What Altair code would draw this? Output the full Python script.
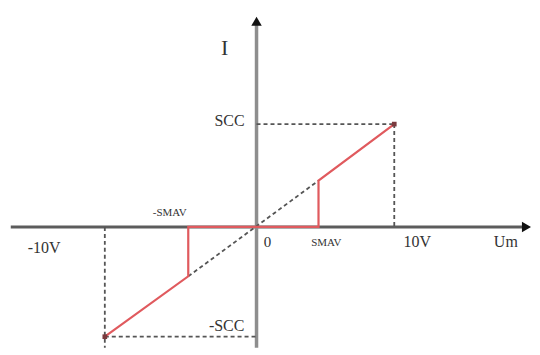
import altair as alt
import pandas as pd

# ---- data (volts on x, current in units of SCC on y) ----
red_x = [-10, -4.5, -4.5, 4.5, 4.5, 10]
red_y = [-1, -0.45, 0, 0, 0.45, 1]

# dashed guide segments: x, y, x2, y2
dash_x1 = [-4.5, 0, 10, -10, -10]
dash_y1 = [-0.45, 1, 1, 0, -1]
dash_x2 = [4.5, 10, 10, -10, 0]
dash_y2 = [0.45, 1, 0, -1.1, -1]

# axes extents
h_axis_x = [-16.2, 19.6]
v_axis_y = [-1.1, 2.0]

end_x = [-10, 10]
end_y = [-1, 1]

label_text = ["I", "SCC", "-SCC", "-SMAV", "SMAV", "-10V", "0", "10V", "Um"]
label_x = [-2.1, -1.78, -1.97, -5.72, 5.07, -14.0, 0.8, 11.67, 18.1]
label_y = [1.74, 1.03, -0.9, 0.136, -0.145, -0.19, -0.136, -0.136, -0.136]
label_size = [22, 16, 16, 11, 11, 16, 15, 16, 16]

xs = alt.Scale(domain=[-10, 0, 10], range=[97, 249, 387], nice=False, zero=False)
ys = alt.Scale(domain=[-1, 0, 1], range=[329, 219, 116], nice=False, zero=False)

def X(f):
    return alt.X(f, type="quantitative", scale=xs, axis=None)

def Y(f):
    return alt.Y(f, type="quantitative", scale=ys, axis=None)

# horizontal axis
h_df = pd.DataFrame({"x": [h_axis_x[0]], "x2": [h_axis_x[1]], "y": [0]})
h_axis = alt.Chart(h_df).mark_rule(color="#5c5c5c", strokeWidth=3).encode(
    x=X("x"), x2="x2", y=Y("y"))

# vertical axis
v_df = pd.DataFrame({"x": [0], "y": [v_axis_y[0]], "y2": [v_axis_y[1]]})
v_axis = alt.Chart(v_df).mark_rule(color="#8e8e8e", strokeWidth=3.5).encode(
    x=X("x"), y=Y("y"), y2="y2")

# arrowheads
arr_r = alt.Chart(pd.DataFrame({"x": [h_axis_x[1]], "y": [0]})).mark_point(
    shape="triangle-right", filled=True, color="#111111", size=110, opacity=1).encode(
    x=X("x"), y=Y("y"))
arr_u = alt.Chart(pd.DataFrame({"x": [0], "y": [v_axis_y[1]]})).mark_point(
    shape="triangle-up", filled=True, color="#111111", size=110, opacity=1).encode(
    x=X("x"), y=Y("y"))

# dashed guides
d_df = pd.DataFrame({"x": dash_x1, "y": dash_y1, "x2": dash_x2, "y2": dash_y2})
dashed = alt.Chart(d_df).mark_rule(color="#555555", strokeWidth=1.8, strokeDash=[4, 3]).encode(
    x=X("x"), y=Y("y"), x2="x2", y2="y2")

# red characteristic
r_df = pd.DataFrame({"x": red_x, "y": red_y, "o": list(range(len(red_x)))})
red = alt.Chart(r_df).mark_line(color="#e05a5e", strokeWidth=2.2).encode(
    x=X("x"), y=Y("y"), order="o:Q")

ends = alt.Chart(pd.DataFrame({"x": end_x, "y": end_y})).mark_square(
    color="#7a3a3e", size=22, opacity=1).encode(x=X("x"), y=Y("y"))

l_df = pd.DataFrame({"t": label_text, "x": label_x, "y": label_y, "s": label_size})
labels = alt.Chart(l_df).mark_text(font="Liberation Serif", color="#333333",
                                   align="center", baseline="middle").encode(
    x=X("x"), y=Y("y"), text="t:N",
    size=alt.Size("s:Q", scale=None, legend=None))

chart = alt.layer(h_axis, v_axis, dashed, red, ends, arr_r, arr_u, labels).properties(
    width=524, height=339, padding=0, background="white"
).configure_view(stroke=None)

chart.save("out.html", embed_options={"renderer": "svg", "actions": False})
